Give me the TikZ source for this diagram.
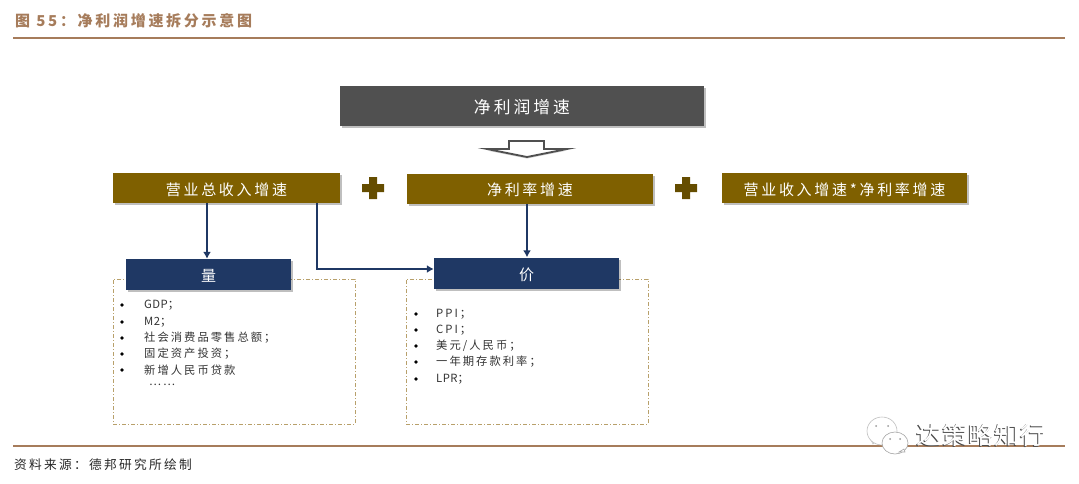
\documentclass[tikz,border=0pt]{standalone}
\usepackage{fontspec}
\setmainfont[LetterSpace=18]{Noto Sans CJK SC}
\newfontfamily\markfont[LetterSpace=4]{Noto Sans CJK SC}
\newfontfamily\tightfont[LetterSpace=4]{Noto Sans CJK SC}
\usepackage{xcolor}
\usetikzlibrary{arrows.meta, shadows}
\definecolor{rule}{HTML}{A67C5B}
\definecolor{slate}{HTML}{505050}
\definecolor{olive}{HTML}{7F6000}
\definecolor{navy}{HTML}{1F3864}
\definecolor{sand}{HTML}{B8A06A}

\begin{document}
\begin{tikzpicture}[x=1pt, y=-1pt,
      softshadow/.style={drop shadow={shadow xshift=2pt, shadow yshift=-2pt, fill=black, opacity=0.25}},
      box/.style={rectangle, inner sep=0pt, text=white, text height=15.5pt, text depth=1.5pt, softshadow, font=\fontsize{15}{18}\selectfont},
      topbox/.style={box, fill=slate, minimum width=364pt, minimum height=40pt, font=\fontsize{16.8}{18}\selectfont},
      sumbox/.style={box, fill=olive, minimum height=30pt},
      tagbox/.style={box, fill=navy, minimum height=31pt},
      listbox/.style={rectangle, draw=sand, line width=1pt, dash pattern=on 4pt off 2pt on 1pt off 2pt, minimum width=242pt, minimum height=145pt, inner sep=0pt},
      item/.style={anchor=west, inner sep=0pt, text=black!80, font=\fontsize{11.3}{13}\selectfont},
      itemdot/.style={circle, fill=black, inner sep=0pt, minimum size=3.6pt},
      flow/.style={draw=navy, line width=1.4pt, -{Latex[length=7pt, width=8pt]}},
      heavyrule/.style={draw=rule, line width=1.5pt}]
    \useasboundingbox (0,0) rectangle (1079,483);
    % header and footer
    \node[anchor=west, inner sep=0pt, text=rule, font=\fontsize{15}{18}\selectfont\bfseries] (title) at (15,21) {图 55：净利润增速拆分示意图};
    \node[anchor=west, inner sep=0pt, text=black!85, font=\fontsize{12.7}{15}\selectfont] (source) at (14,465) {资料来源：德邦研究所绘制};
    \draw[heavyrule] (13,38) -- (1065,38);
    \draw[heavyrule] (13,446) -- (1065,446);
    % boxes
    \node[topbox] (profit) at (522,106) {净利润增速};
    \node[sumbox, minimum width=227pt] (revenue) at (226.5,188) {营业总收入增速};
    \node[sumbox, minimum width=246pt] (margin) at (530,188.5) {净利率增速};
    \node[sumbox, minimum width=245pt] (cross) at (844.5,188) {营业收入增速*净利率增速};
    \node[listbox] (volumelist) at (234,351.5) {};
    \node[listbox] (pricelist) at (527,351.5) {};
    \node[tagbox, minimum width=165pt] (volume) at (208.5,274.5) {量};
    \node[tagbox, minimum width=185pt] (price) at (526.5,273) {价};
    % hollow arrow
    \draw[draw=slate, line width=1.8pt, fill=white, miter limit=20, drop shadow={shadow xshift=0pt, shadow yshift=-1.5pt, fill=black, opacity=0.2}]
      (509,141) -- (544,141) -- (544,149) -- (567,149) -- (527,157) -- (487,149) -- (509,149) -- cycle;
    % plus signs
    \foreach \px in {373,686}
      \fill[olive!80!black, shift={(\px,188)}]
        (-4,-11) -- (4,-11) -- (4,-4) -- (11,-4) -- (11,4) -- (4,4) -- (4,11) -- (-4,11) -- (-4,4) -- (-11,4) -- (-11,-4) -- (-4,-4) -- cycle;
    % connectors
    \draw[flow] (207,0 |- revenue.south) -- (207,0 |- volume.north);
    \draw[flow] (527,0 |- margin.south) -- (527,0 |- price.north);
    \draw[flow] (317,0 |- revenue.south) |- (price.west |- 0,269);
    % lists
    \foreach \n/\ly/\txt in {1/305/{{\tightfont GDP}；}, 2/322/{{\tightfont M2}；}, 3/338/{社会消费品零售总额；}, 4/354/{固定资产投资；}, 5/370/{新增人民币贷款}} {
      \node[itemdot] (volumedot\n) at (122,\ly) {};
      \node[item] (volumeitem\n) at (144,\ly) {\txt};
    }
    \node[item] (volumemore) at (149,385) {……};
    \foreach \n/\ly/\txt in {1/314/{PPI；}, 2/330/{CPI；}, 3/346/{美元/人民币；}, 4/362/{一年期存款利率；}, 5/379/{{\tightfont LPR}；}} {
      \node[itemdot] (pricedot\n) at (416,\ly) {};
      \node[item] (priceitem\n) at (436,\ly) {\txt};
    }
    % watermark
    \draw[black!25, fill=white, line width=0.6pt] (868,434) -- (873,444) -- (878,439) -- cycle;
    \draw[black!25, fill=white, line width=0.6pt] (882,431) ellipse (15pt and 14pt);
    \draw[black!35, fill=white, line width=0.6pt] (895,443) ellipse (13pt and 11pt);
    \draw[black!35, fill=white, line width=0.6pt] (899,452) -- (905,452) -- (904,449) -- cycle;
    \foreach \dx/\dy in {876/426, 888/426, 890/439, 900/439}
      \fill[black!40] (\dx,\dy) circle (1pt);
    \node[anchor=west, inner sep=0pt, text=black!70, font=\fontsize{25}{28}\markfont] (marklow) at (915.2,435.8) {达策略知行};
    \node[anchor=west, inner sep=0pt, text=white, font=\fontsize{25}{28}\markfont] (mark) at (916,435) {达策略知行};
  \end{tikzpicture}
\end{document}
